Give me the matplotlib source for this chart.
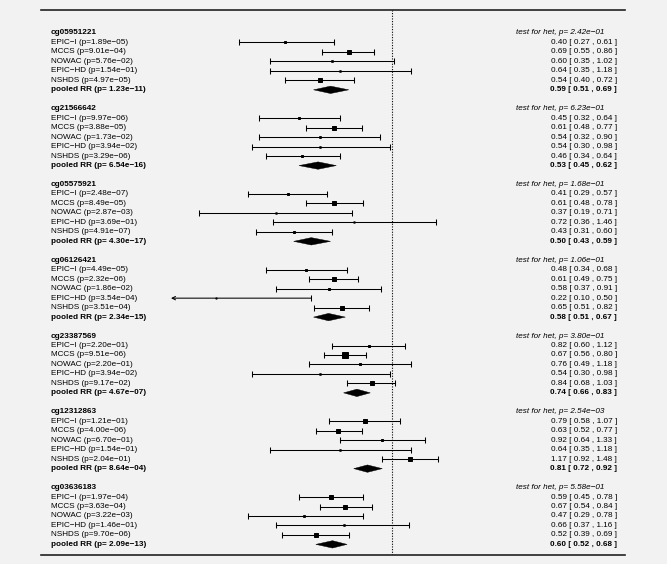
import numpy as np
import matplotlib
matplotlib.use("Agg")
import matplotlib.pyplot as plt
from matplotlib.lines import Line2D
from matplotlib.patches import Polygon
from matplotlib.transforms import blended_transform_factory

# CpG probes (one block each) and the heterogeneity test p-value
probes = ["cg05951221", "cg21566642", "cg05575921", "cg06126421",
          "cg23387569", "cg12312863", "cg03636183"]
het_p = [2.42e-01, 6.23e-01, 1.68e-01, 1.06e-01, 3.80e-01, 2.54e-03, 5.58e-01]

studies = ["EPIC-I", "MCCS", "NOWAC", "EPIC-HD", "NSHDS"]

# per-study p-values, RR and 95% CI (rows = probes, cols = studies)
study_p = [
    [1.89e-05, 9.01e-04, 5.76e-02, 1.54e-01, 4.97e-05],
    [9.97e-06, 3.88e-05, 1.73e-02, 3.94e-02, 3.29e-06],
    [2.48e-07, 8.49e-05, 2.87e-03, 3.69e-01, 4.91e-07],
    [4.49e-05, 2.32e-06, 1.86e-02, 3.54e-04, 3.51e-04],
    [2.20e-01, 9.51e-06, 2.20e-01, 3.94e-02, 9.17e-02],
    [1.21e-01, 4.00e-06, 6.70e-01, 1.54e-01, 2.04e-01],
    [1.97e-04, 3.63e-04, 3.22e-03, 1.46e-01, 9.70e-06],
]
rr = [
    [0.40, 0.69, 0.60, 0.64, 0.54],
    [0.45, 0.61, 0.54, 0.54, 0.46],
    [0.41, 0.61, 0.37, 0.72, 0.43],
    [0.48, 0.61, 0.58, 0.22, 0.65],
    [0.82, 0.67, 0.76, 0.54, 0.84],
    [0.79, 0.63, 0.92, 0.64, 1.17],
    [0.59, 0.67, 0.47, 0.66, 0.52],
]
lo = [
    [0.27, 0.55, 0.35, 0.35, 0.40],
    [0.32, 0.48, 0.32, 0.30, 0.34],
    [0.29, 0.48, 0.19, 0.36, 0.31],
    [0.34, 0.49, 0.37, 0.10, 0.51],
    [0.60, 0.56, 0.49, 0.30, 0.68],
    [0.58, 0.52, 0.64, 0.35, 0.92],
    [0.45, 0.54, 0.29, 0.37, 0.39],
]
hi = [
    [0.61, 0.86, 1.02, 1.18, 0.72],
    [0.64, 0.77, 0.90, 0.98, 0.64],
    [0.57, 0.78, 0.71, 1.46, 0.60],
    [0.68, 0.75, 0.91, 0.50, 0.82],
    [1.12, 0.80, 1.18, 0.98, 1.03],
    [1.07, 0.77, 1.33, 1.18, 1.48],
    [0.78, 0.84, 0.78, 1.16, 0.69],
]

# pooled estimates
pooled_p = [1.23e-11, 6.54e-16, 4.30e-17, 2.34e-15, 4.67e-07, 8.64e-04, 2.09e-13]
pooled_rr = [0.59, 0.53, 0.50, 0.58, 0.74, 0.81, 0.60]
pooled_lo = [0.51, 0.45, 0.43, 0.51, 0.66, 0.72, 0.52]
pooled_hi = [0.69, 0.62, 0.59, 0.67, 0.83, 0.92, 0.68]

CLIP_LO = 0.15

# layout in pixels (figure is 667 x 564 at 100 dpi)
W, H = 667, 564
X1_PX = 392.0        # where RR = 1 sits
PX_PER_LN = 116.5    # pixels per unit of ln(RR)
ROW0_PX = 33.0       # first row centre
ROW_PX = 9.47        # row spacing
TOP_PX, BOT_PX = 10.0, 555.0
FS = 5.85
BG = "#f2f2f2"

plt.rcParams["font.family"] = ["Liberation Sans", "DejaVu Sans"]


def fmt(v):
    return ("%.2e" % v).replace("-", "\u2212")


def num(v):
    return "%.2f" % v


fig = plt.figure(figsize=(W / 100, H / 100), dpi=100, facecolor=BG)

xmin, xmax = CLIP_LO, 1.6
left_px = X1_PX + np.log(xmin) * PX_PER_LN
right_px = X1_PX + np.log(xmax) * PX_PER_LN
ax = fig.add_axes([left_px / W, 1 - BOT_PX / H,
                   (right_px - left_px) / W, (BOT_PX - TOP_PX) / H])
ax.set_facecolor(BG)
ax.set_xscale("log")
ax.set_xlim(xmin, xmax)
r_top = (TOP_PX - ROW0_PX) / ROW_PX
r_bot = (BOT_PX - ROW0_PX) / ROW_PX
ax.set_ylim(r_bot, r_top)
ax.axis("off")

# reference line at RR = 1
ax.axvline(1.0, color="black", lw=0.8, ls=(0, (1, 1.4)))

# top / bottom rules
for ypx in (TOP_PX, BOT_PX):
    fig.add_artist(Line2D([41 / W, 625 / W], [1 - ypx / H, 1 - ypx / H],
                          color="#222222", lw=1.2))

tr = blended_transform_factory(fig.transFigure, ax.transData)
x_lab = 51 / W
x_num = 617 / W
x_het = 516 / W

# box sizes: inverse CI width on the log scale, scaled to the narrowest CI
lo_a, hi_a = np.array(lo), np.array(hi)
info = 1.0 / (np.log(hi_a) - np.log(lo_a))
box_px = 5.2 * info / info.max()

for g, probe in enumerate(probes):
    base = g * 8
    ax.text(x_lab, base, probe, transform=tr, fontsize=FS, fontweight="bold",
            ha="left", va="center")
    ax.text(x_het, base, "test for het, p= " + fmt(het_p[g]), transform=tr,
            fontsize=FS, style="italic", ha="left", va="center")

    for s, name in enumerate(studies):
        y = base + 1 + s
        label = name.replace("-", "\u2212") + " (p=" + fmt(study_p[g][s]) + ")"
        ax.text(x_lab, y, label, transform=tr, fontsize=FS, ha="left", va="center")
        ax.text(x_num, y, "%s [ %s , %s ]" % (num(rr[g][s]), num(lo[g][s]), num(hi[g][s])),
                transform=tr, fontsize=FS, ha="right", va="center")

        l, h, m = lo[g][s], hi[g][s], rr[g][s]
        if l < CLIP_LO:
            ax.annotate("", xy=(CLIP_LO, y), xytext=(h, y),
                        arrowprops=dict(arrowstyle="->", lw=0.75, color="black",
                                        shrinkA=0, shrinkB=0, mutation_scale=6))
            ax.plot([h], [y], marker="|", ms=4.3, mew=0.75, color="black")
        else:
            ax.plot([l, h], [y, y], color="black", lw=0.75)
            ax.plot([l, h], [y, y], ls="none", marker="|", ms=4.3, mew=0.75,
                    color="black")
        ax.plot([m], [y], marker="s", ms=box_px[g, s] * 0.72, mew=0.7,
                color="black")

    y = base + 6
    ax.text(x_lab, y, "pooled RR (p= " + fmt(pooled_p[g]) + ")", transform=tr,
            fontsize=FS, fontweight="bold", ha="left", va="center")
    ax.text(x_num, y, "%s [ %s , %s ]" % (num(pooled_rr[g]), num(pooled_lo[g]),
                                          num(pooled_hi[g])),
            transform=tr, fontsize=FS, fontweight="bold", ha="right", va="center")
    hh = 0.39
    ax.add_patch(Polygon([(pooled_lo[g], y), (pooled_rr[g], y - hh),
                          (pooled_hi[g], y), (pooled_rr[g], y + hh)],
                         closed=True, facecolor="black", edgecolor="black", lw=0.3))

fig.savefig("out.png", dpi=100, facecolor=BG)
